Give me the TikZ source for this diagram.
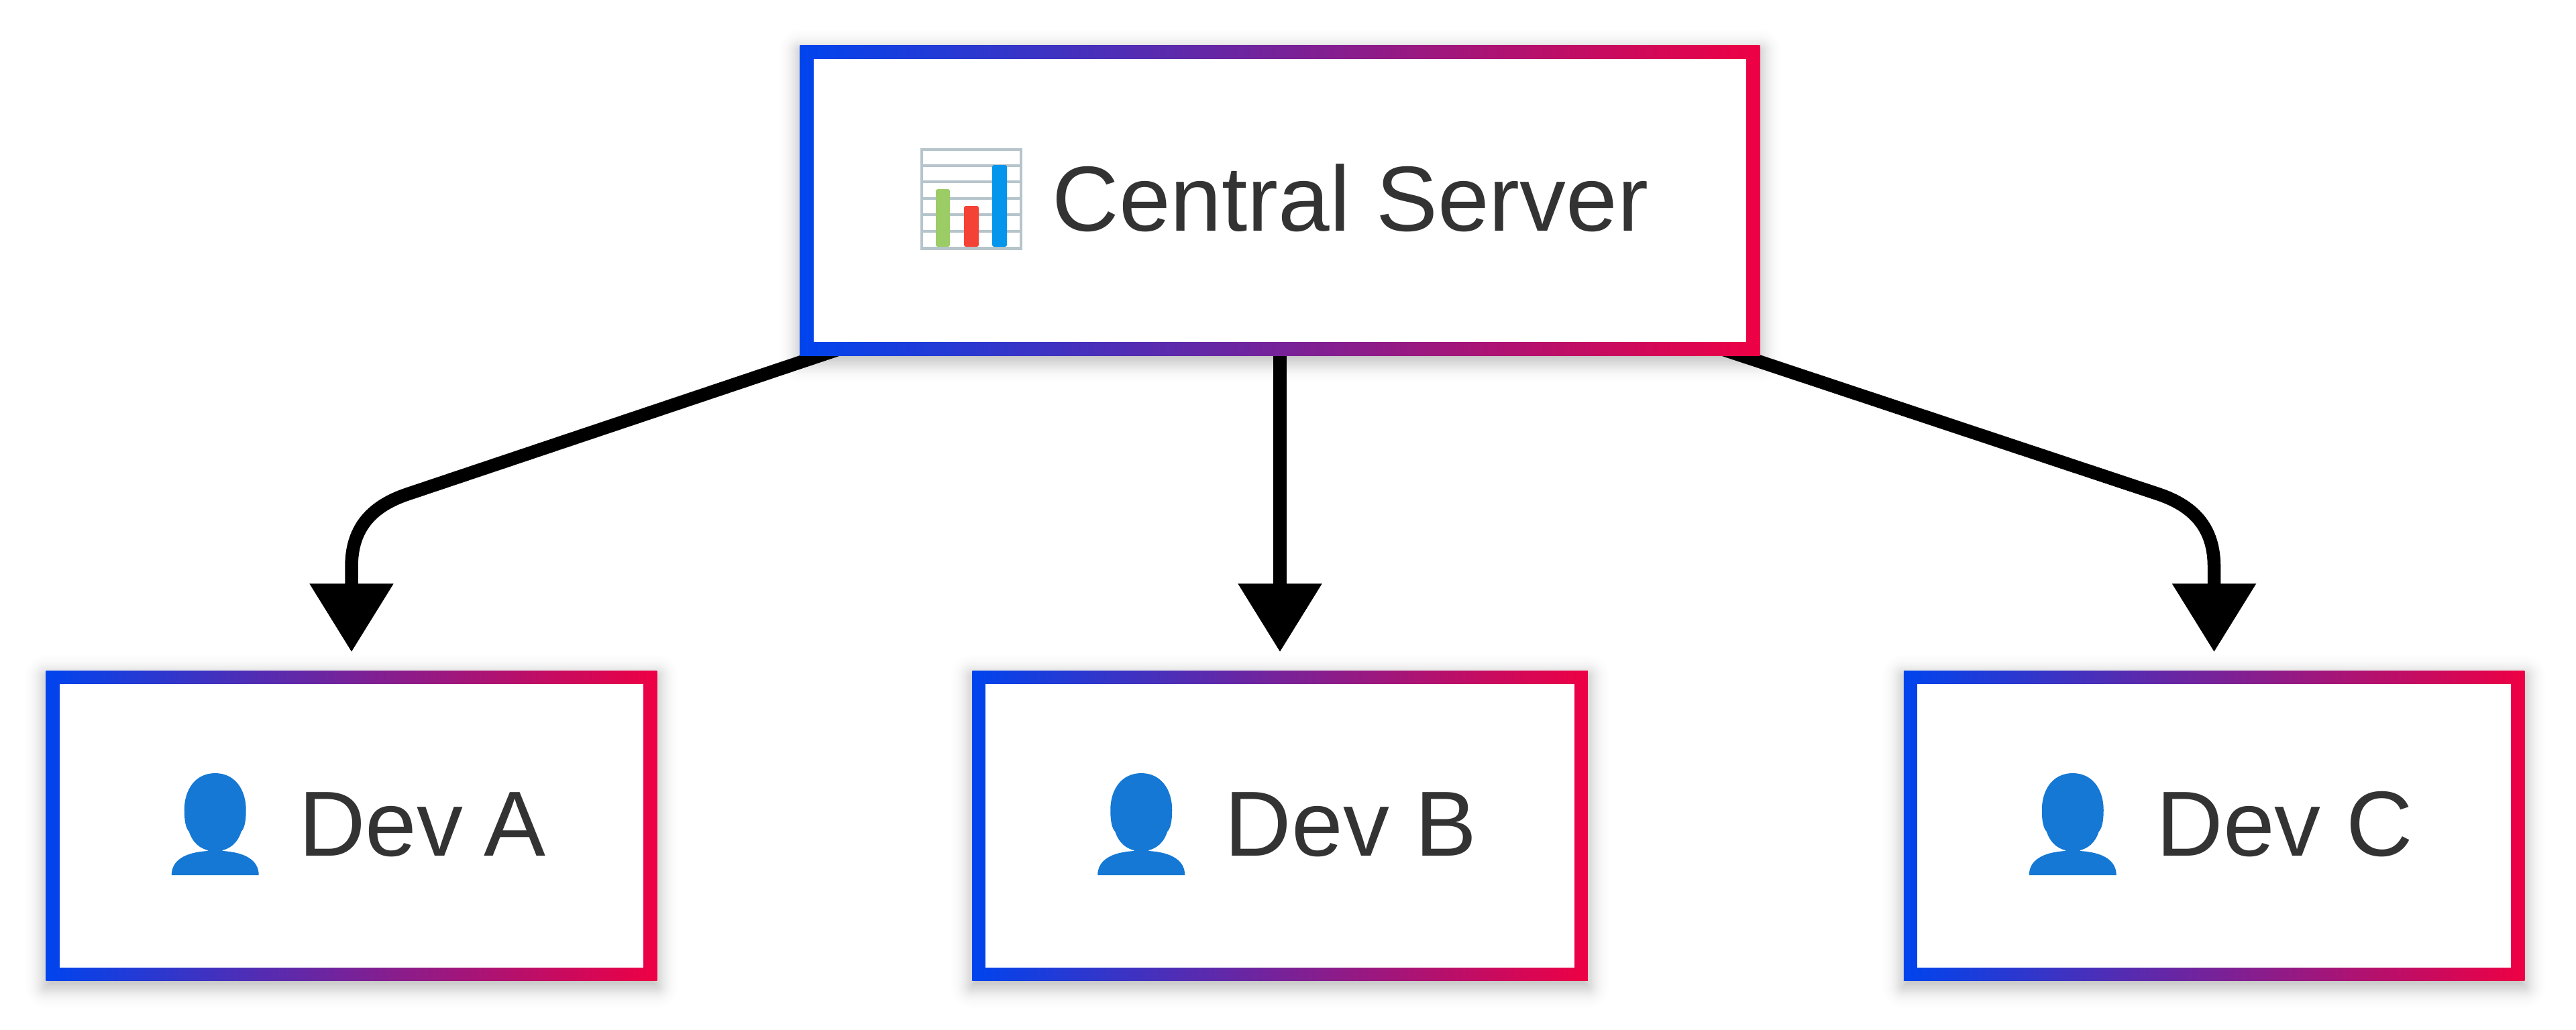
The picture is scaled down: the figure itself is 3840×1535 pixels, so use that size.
\documentclass[tikz,border=0pt]{standalone}
\usepackage{fontspec}
\setmainfont{Liberation Sans}
\usetikzlibrary{arrows.meta,calc}
\definecolor{gradblue}{HTML}{0044EE}
\definecolor{gradred}{HTML}{EE0044}
\definecolor{labelgray}{HTML}{333333}
\definecolor{chartgrid}{HTML}{B6C4CB}
\definecolor{personblue}{HTML}{1478D4}
\definecolor{bargreen}{HTML}{9CCC65}
\definecolor{barred}{HTML}{F44336}
\definecolor{barblue}{HTML}{0396EC}
\pgfdeclarelayer{shadowlayer}
\pgfdeclarelayer{wirelayer}
\pgfsetlayers{shadowlayer,wirelayer,main}
\tikzset{
	gradbox/.style={rectangle,inner sep=0pt,outer sep=0pt,minimum height=4.62cm,
		left color=gradblue,right color=gradred,
		path picture={\fill[white] ($(path picture bounding box.south west)+(20,-20)$) rectangle ($(path picture bounding box.north east)+(-20,20)$);}},
	boxlabel/.style={anchor=base west,inner sep=0pt,text=labelgray,font=\fontsize{39.2}{47}\selectfont},
	flowline/.style={line width=0.195cm,-{Triangle[length=1.02cm,width=1.2cm]},shorten >=0.28cm},
	chartbar/.style={rounded corners=0.03cm},
}
\begin{document}
\begin{tikzpicture}[x=0.01cm,y=-0.01cm]
			\path[use as bounding box] (0,0) rectangle (3840,1535);
			% boxes
			\node[gradbox,minimum width=14.30cm] (server) at (1908,299) {};
			\node[boxlabel] (serverlabel) at (1568,344) {Central Server};
			\foreach \name/\x/\w/\lab in {devA/524/9.10/Dev\kern-0.055em\ A,devB/1908/9.17/Dev B,devC/3300.5/9.25/Dev C}{
				\node[gradbox,minimum width=\w cm] (\name) at (\x,1231.5) {};
				\node[boxlabel] (\name label) at ($(\name.west)+(376,45)$) {\lab};
				% person
				\begin{scope}[shift={($(\name.west)+(252,-78.5)$)}]
					\fill[personblue] (0,0) .. controls (-30,0) and (-46,25) .. (-46,55)
						.. controls (-46,70) and (-44,82) .. (-39,87)
						.. controls (-33,105) and (-22,112) .. (-11,115) -- (-11,116)
						.. controls (-45,118) and (-65,130) .. (-65,152) -- (65,152)
						.. controls (65,130) and (45,118) .. (11,116) -- (11,115)
						.. controls (22,112) and (33,105) .. (39,87)
						.. controls (44,82) and (46,70) .. (46,55)
						.. controls (46,25) and (30,0) .. (0,0) -- cycle;
				\end{scope}
			}
			% chart
			\foreach \y in {247,271,296,320,345}{
				\draw[chartgrid,line width=0.04cm] (1372,\y) -- (1524,\y);
			}
			\draw[chartgrid,line width=0.04cm] (1374,223) rectangle (1522,371);
			\draw[chartgrid,line width=0.05cm] (1372,370.5) -- (1524,370.5);
			\fill[bargreen,chartbar] (1395,368) |- (1416,282) -- (1416,368) -- cycle;
			\fill[barred,chartbar] (1437,368) |- (1459,307) -- (1459,368) -- cycle;
			\fill[barblue,chartbar] (1479,368) |- (1501,246) -- (1501,368) -- cycle;
			% arrows
			\coordinate (startA) at (1253,520);
			\coordinate (inA) at (607,737);
			\coordinate (bendA) at (524,765);
			\coordinate (outA) at (524,845);
			\coordinate (startC) at (2565,520);
			\coordinate (inC) at (3218,737);
			\coordinate (bendC) at (3300.5,765);
			\coordinate (outC) at (3300.5,845);
			\begin{pgfonlayer}{wirelayer}
				\draw[flowline] (startA) -- (inA) .. controls ($(inA)!0.68!(bendA)$) and ($(outA)!0.68!(bendA)$) .. (outA) -- (devA.north);
				\draw[flowline] (server.south) -- (devB.north);
				\draw[flowline] (startC) -- (inC) .. controls ($(inC)!0.68!(bendC)$) and ($(outC)!0.68!(bendC)$) .. (outC) -- (devC.north);
			\end{pgfonlayer}
			% shadows
			\begin{pgfonlayer}{shadowlayer}
				\foreach \name in {server,devA,devB,devC}{
					\foreach \d in {44,42,...,-16}{
						\pgfmathsetmacro{\op}{0.018*exp(-\d*\d/512)}
						\pgfmathsetmacro{\rc}{max(\d,0)*0.01}
						\pgfmathsetmacro{\sd}{0-\d}
						\pgfmathsetmacro{\tp}{8-\d}
						\pgfmathsetmacro{\bt}{8+\d}
						\fill[black,opacity=\op,rounded corners=\rc cm] ($(\name.north west)+(\sd,\tp)$) rectangle ($(\name.south east)+(\d,\bt)$);
					}
				}
			\end{pgfonlayer}
		\end{tikzpicture}
\end{document}
